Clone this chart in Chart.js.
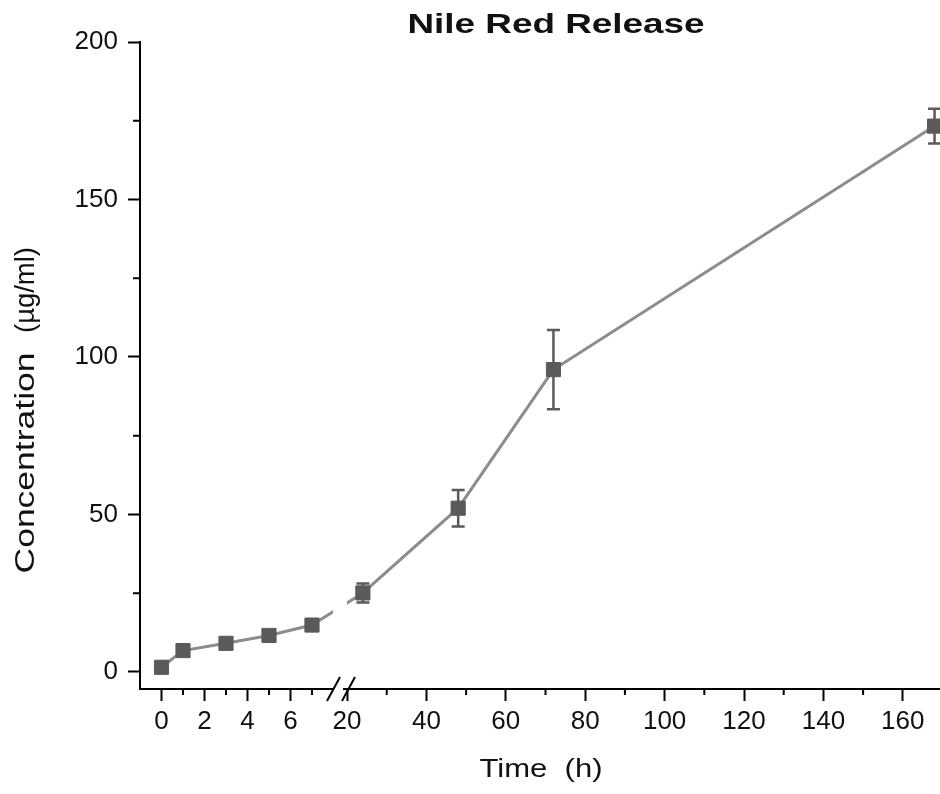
<!DOCTYPE html>
<html>
<head>
<meta charset="utf-8">
<title>Nile Red Release</title>
<script src="https://cdn.jsdelivr.net/npm/chart.js@4.4.1/dist/chart.umd.min.js"></script>
<style>
  html, body { margin: 0; padding: 0; background: #fff; }
  canvas { display: block; }
</style>
</head>
<body>
<canvas id="c" width="940" height="794"></canvas>
<script>
// Nile Red release: concentration vs time, x axis broken between 8 h and 20 h
const TIME_EARLY = [0, 1, 3, 5, 7];
const CONC_EARLY = [1.5, 6.8, 9.1, 11.6, 14.9];
const ERR_EARLY  = [1.5, 1.5, 1.5, 1.5, 1.5];
const TIME_LATE  = [24, 48, 72, 168];
const CONC_LATE  = [25.1, 52.0, 96.0, 173.3];
const ERR_LATE   = [3.0, 5.8, 12.6, 5.5];

const X1_MAJOR = [0, 2, 4, 6];
const X1_MINOR = [1, 3, 5, 7];
const X2_MAJOR = [20, 40, 60, 80, 100, 120, 140, 160];
const X2_MINOR = [30, 50, 70, 90, 110, 130, 150];
const Y_MAJOR  = [0, 50, 100, 150, 200];
const Y_MINOR  = [25, 75, 125, 175];

const FONT = "'Liberation Sans', Arial, Helvetica, sans-serif";
const INK = "#111";
const LINE = "#8c8c8c";
const MARK = "#5a5a5a";

Chart.defaults.font.family = FONT;

// text drawn with a horizontal stretch so it spans the same length as in the figure
function stretchText(ctx, str, x, y, font, len, rot) {
  ctx.save();
  ctx.font = font;
  ctx.fillStyle = INK;
  ctx.translate(x, y);
  if (rot) ctx.rotate(rot);
  const w = ctx.measureText(str).width;
  ctx.scale(len / w, 1);
  ctx.textAlign = "center";
  ctx.textBaseline = "alphabetic";
  ctx.fillText(str, 0, 0);
  ctx.restore();
}

const xAxis = (min, max, weight, major) => ({
  type: "linear", position: "bottom", stack: "time", stackWeight: weight,
  min, max,
  afterBuildTicks: s => { s.ticks = major.map(v => ({ value: v })); },
  afterFit: s => { s.height = 105; s.paddingLeft = 0; s.paddingRight = 0; },
  grid: { drawOnChartArea: false, tickLength: 12, tickWidth: 2, tickColor: "#000" },
  border: { color: "#000", width: 2 },
  ticks: { autoSkip: false, maxRotation: 0, padding: 5, color: INK, font: { size: 26 } },
});

const extras = {
  id: "extras",
  beforeDatasetsDraw(chart) {
    const { ctx, chartArea: a } = chart;
    const x1 = chart.scales.x1, x2 = chart.scales.x2, y = chart.scales.y;
    // line across the axis break, with the gap where the break sits
    ctx.save();
    ctx.beginPath();
    ctx.rect(a.left, a.top, x1.right - 5 - a.left, a.bottom - a.top);
    ctx.rect(x1.right + 9, a.top, a.right - x1.right - 9, a.bottom - a.top);
    ctx.clip();
    ctx.strokeStyle = LINE; ctx.lineWidth = 3;
    ctx.beginPath();
    ctx.moveTo(x1.getPixelForValue(TIME_EARLY[TIME_EARLY.length - 1]), y.getPixelForValue(CONC_EARLY[CONC_EARLY.length - 1]));
    ctx.lineTo(x2.getPixelForValue(TIME_LATE[0]), y.getPixelForValue(CONC_LATE[0]));
    ctx.stroke();
    ctx.restore();

    // error bars
    ctx.save();
    ctx.strokeStyle = MARK; ctx.lineWidth = 2.5;
    const bars = (sx, ts, cs, es) => ts.forEach((t, i) => {
      const px = sx.getPixelForValue(t);
      const lo = y.getPixelForValue(cs[i] - es[i]), hi = y.getPixelForValue(cs[i] + es[i]);
      ctx.beginPath();
      ctx.moveTo(px, lo); ctx.lineTo(px, hi);
      ctx.moveTo(px - 6.5, lo); ctx.lineTo(px + 6.5, lo);
      ctx.moveTo(px - 6.5, hi); ctx.lineTo(px + 6.5, hi);
      ctx.stroke();
    });
    bars(x1, TIME_EARLY, CONC_EARLY, ERR_EARLY);
    bars(x2, TIME_LATE, CONC_LATE, ERR_LATE);
    ctx.restore();
  },
  afterDraw(chart) {
    const { ctx } = chart;
    const x1 = chart.scales.x1, x2 = chart.scales.x2, y = chart.scales.y;
    ctx.save();
    ctx.strokeStyle = "#000"; ctx.lineWidth = 2;
    // minor ticks
    ctx.beginPath();
    X1_MINOR.forEach(v => { const p = x1.getPixelForValue(v); ctx.moveTo(p, x1.top); ctx.lineTo(p, x1.top + 6); });
    X2_MINOR.forEach(v => { const p = x2.getPixelForValue(v); ctx.moveTo(p, x2.top); ctx.lineTo(p, x2.top + 6); });
    Y_MINOR.forEach(v => { const p = y.getPixelForValue(v); ctx.moveTo(y.right - 7, p); ctx.lineTo(y.right, p); });
    ctx.stroke();
    // axis break marks
    const r = x1.right, t = x1.top;
    ctx.fillStyle = "#fff";
    ctx.fillRect(r - 5, t - 3, 10, 6);
    ctx.beginPath();
    ctx.moveTo(r - 11, t + 12); ctx.lineTo(r + 2, t - 12);
    ctx.moveTo(r + 4, t + 12); ctx.lineTo(r + 17, t - 12);
    ctx.stroke();
    ctx.restore();

    // titles
    stretchText(ctx, "Nile Red Release", 556, 33, "bold 28px " + FONT, 297);
    stretchText(ctx, "Time  (h)", 541, 777, "26px " + FONT, 123);
    stretchText(ctx, "Concentration", 34, 463, "27px " + FONT, 221, -Math.PI / 2);
    stretchText(ctx, "(µg/ml)", 34, 290, "27px " + FONT, 86, -Math.PI / 2);
  },
};

const pointStyle = {
  borderColor: LINE, borderWidth: 3,
  pointStyle: "rect", pointRadius: 10, pointHoverRadius: 10,
  pointBackgroundColor: MARK, pointBorderColor: MARK, pointBorderWidth: 1,
  clip: false, tension: 0,
};

new Chart(document.getElementById("c"), {
  type: "line",
  data: {
    datasets: [
      { label: "0–7 h", xAxisID: "x1", yAxisID: "y",
        data: TIME_EARLY.map((t, i) => ({ x: t, y: CONC_EARLY[i] })), ...pointStyle },
      { label: "24–168 h", xAxisID: "x2", yAxisID: "y",
        data: TIME_LATE.map((t, i) => ({ x: t, y: CONC_LATE[i] })), ...pointStyle },
    ],
  },
  options: {
    responsive: false, animation: false, devicePixelRatio: 1,
    layout: { autoPadding: false, padding: { top: 42, right: 0, bottom: 0, left: 0 } },
    plugins: { legend: { display: false }, tooltip: { enabled: false }, title: { display: false } },
    scales: {
      x1: xAxis(-1, 8.21, 198, X1_MAJOR),
      x2: xAxis(17.73, 169.37, 602, X2_MAJOR),
      y: {
        type: "linear", position: "left", min: -5.4, max: 200,
        afterBuildTicks: s => { s.ticks = Y_MAJOR.map(v => ({ value: v })); },
        afterFit: s => { s.width = 140; s.paddingTop = 0; s.paddingBottom = 0; },
        grid: { drawOnChartArea: false, tickLength: 12, tickWidth: 2, tickColor: "#000" },
        border: { color: "#000", width: 2 },
        ticks: { padding: 10, color: INK, font: { size: 26 } },
      },
    },
  },
  plugins: [extras],
});
</script>
</body>
</html>
